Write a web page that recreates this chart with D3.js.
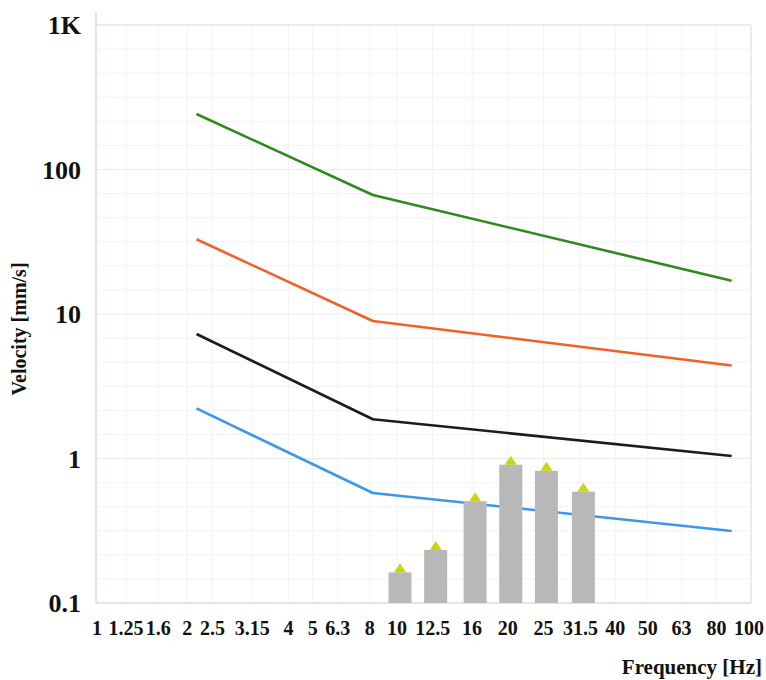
<!DOCTYPE html>
<html>
<head>
<meta charset="utf-8">
<script src="https://cdn.jsdelivr.net/npm/d3@7/dist/d3.min.js"></script>
<style>
  html, body { margin: 0; padding: 0; background: #fff; }
  svg { display: block; }
  text { font-family: "Liberation Serif", "DejaVu Serif", serif; font-weight: bold; fill: #111; }
</style>
</head>
<body>
<svg id="chart" width="766" height="680"></svg>
<script>
// ---- data ----
const categories = ["1","1.25","1.6","2","2.5","3.15","4","5","6.3","8","10","12.5","16","20","25","31.5","40","50","63","80","100"];
const yTickValues = [0.1, 1, 10, 100, 1000];
const yTickLabels = ["0.1", "1", "10", "100", "1K"];
const lineFreq = [2.17, 8.2, 88.8];
const greenValues  = [242, 66.6, 17.0];
const orangeValues = [32.9, 8.95, 4.4];
const blackValues  = [7.27, 1.87, 1.04];
const blueValues   = [2.22, 0.577, 0.315];
const barCategories = ["10","12.5","16","20","25","31.5"];
const barValues = [0.163, 0.233, 0.506, 0.905, 0.822, 0.589];

(function () {
// ---- layout ----
const svg = d3.select("#chart");
const pLeft = 96, pRight = 751, pTop = 25, pBottom = 603;

// one-third-octave band index (10*log10 f) -> pixel, piecewise to follow the original axis
const xi = d3.scaleLinear()
  .domain([0, 3, 4, 5, 6, 8, 9, 10, 15, 20])
  .range([97, 187, 213, 253, 288, 338, 369, 397, 581, 749]);
const xf = f => xi(10 * Math.log10(+f));

const y = d3.scaleLog().domain([0.1, 1000]).range([pBottom, pTop]);

// ---- grid ----
const grid = svg.append("g");
const hMinor = [];
for (let k = -1; k < 3; k++) for (let i = 1; i < 6; i++) hMinor.push(Math.pow(10, k + i / 6));
grid.selectAll(".hm").data(hMinor).join("line")
  .attr("x1", pLeft).attr("x2", pRight)
  .attr("y1", d => y(d)).attr("y2", d => y(d))
  .attr("stroke", "#f0f2f4").attr("stroke-width", 1);
grid.selectAll(".hM").data([1, 10, 100]).join("line")
  .attr("x1", pLeft).attr("x2", pRight)
  .attr("y1", d => y(d)).attr("y2", d => y(d))
  .attr("stroke", "#e8ebee").attr("stroke-width", 1);
grid.selectAll(".v").data(categories.slice(1, -1)).join("line")
  .attr("x1", d => xf(d)).attr("x2", d => xf(d))
  .attr("y1", pTop).attr("y2", pBottom)
  .attr("stroke", "#f0f2f4").attr("stroke-width", 1);

// frame
svg.append("line").attr("x1", pLeft).attr("x2", pRight).attr("y1", pTop).attr("y2", pTop)
  .attr("stroke", "#e3e7eb").attr("stroke-width", 1.5);
svg.append("line").attr("x1", pRight).attr("x2", pRight).attr("y1", pTop).attr("y2", pBottom)
  .attr("stroke", "#e3e7eb").attr("stroke-width", 1.5);
svg.append("line").attr("x1", pLeft).attr("x2", pLeft).attr("y1", 12).attr("y2", pBottom)
  .attr("stroke", "#d6dde6").attr("stroke-width", 1.5);
svg.append("line").attr("x1", pLeft).attr("x2", pRight).attr("y1", pBottom).attr("y2", pBottom)
  .attr("stroke", "#d6dde6").attr("stroke-width", 1.5);

// ---- lines ----
const lineGen = d3.line().x((d, i) => xf(lineFreq[i])).y(d => y(d));
const series = [
  { values: greenValues,  color: "#2f8a1e" },
  { values: orangeValues, color: "#ef6126" },
  { values: blackValues,  color: "#1c1c1c" },
  { values: blueValues,   color: "#3d98e6" }
];
svg.append("g").selectAll("path").data(series).join("path")
  .attr("d", d => lineGen(d.values))
  .attr("fill", "none")
  .attr("stroke", d => d.color)
  .attr("stroke-width", 2.6)
  .attr("stroke-linejoin", "round");

// ---- bars ----
const barW = 23;
const bars = svg.append("g");
bars.selectAll("rect").data(barValues).join("rect")
  .attr("x", (d, i) => xf(barCategories[i]) + 3 - barW / 2)
  .attr("width", barW)
  .attr("y", d => y(d))
  .attr("height", d => pBottom - y(d))
  .attr("fill", "#b8b8b8");
bars.selectAll("path").data(barValues).join("path")
  .attr("d", (d, i) => {
    const cx = xf(barCategories[i]) + 3, cy = y(d);
    return `M${cx - 6},${cy} L${cx + 6},${cy} L${cx},${cy - 9} Z`;
  })
  .attr("fill", "#c9d614");

// ---- axes text ----
svg.append("g").selectAll("text").data(yTickValues).join("text")
  .attr("x", 81)
  .attr("y", d => y(d))
  .attr("dy", "0.36em")
  .attr("text-anchor", "end")
  .attr("font-size", 26)
  .text((d, i) => yTickLabels[i]);

svg.append("g").selectAll("text").data(categories).join("text")
  .attr("x", d => xf(d))
  .attr("y", 635)
  .attr("text-anchor", "middle")
  .attr("font-size", 20)
  .text(d => d);

svg.append("text")
  .attr("transform", "translate(26,329) rotate(-90)")
  .attr("text-anchor", "middle")
  .attr("font-size", 20)
  .text("Velocity [mm/s]");

svg.append("text")
  .attr("x", 762).attr("y", 674)
  .attr("text-anchor", "end")
  .attr("font-size", 21)
  .text("Frequency [Hz]");
})();
</script>
</body>
</html>
